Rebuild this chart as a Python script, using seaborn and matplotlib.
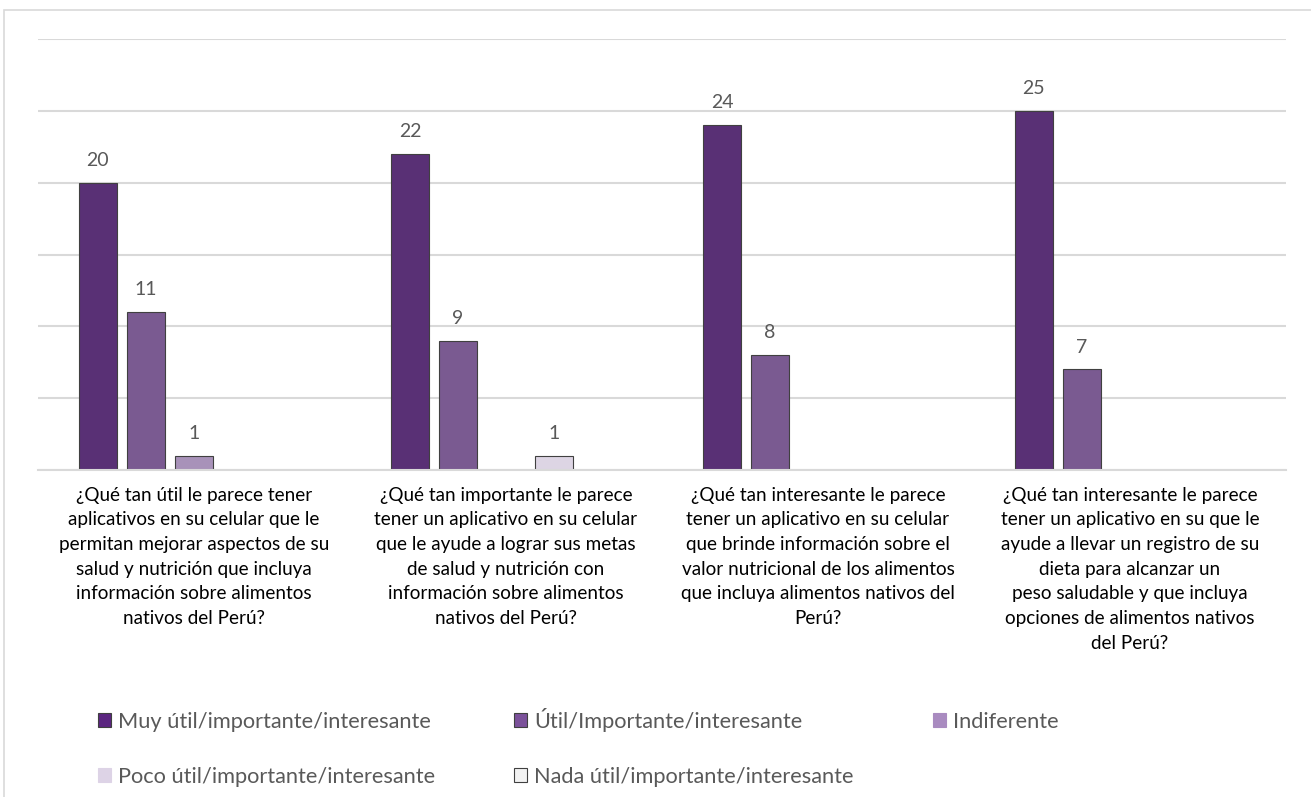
import matplotlib.pyplot as plt
import matplotlib.patches as mpatches
import matplotlib.ticker as mticker
import seaborn as sns
import pandas as pd

# ── Data ──────────────────────────────────────────────────────────────────────

preguntas = [
    "¿Qué tan útil le parece tener\naplicativos en su celular que le\npermitan mejorar aspectos de su\n"
    "salud y nutrición que incluya\ninformación sobre alimentos\nnativos del Perú?",
    "¿Qué tan importante le parece\ntener un aplicativo en su celular\nque le ayude a lograr sus metas\n"
    "de salud y nutrición con\ninformación sobre alimentos\nnativos del Perú?",
    "¿Qué tan interesante le parece\ntener un aplicativo en su celular\nque brinde información sobre el\n"
    "valor nutricional de los alimentos\nque incluya alimentos nativos del\nPerú?",
    "¿Qué tan interesante le parece\ntener un aplicativo en su que le\nayude a llevar un registro de su\n"
    "dieta para alcanzar un\npeso saludable y que incluya\nopciones de alimentos nativos\ndel Perú?",
]
respuestas = [
    "Muy útil/importante/interesante",
    "Útil/Importante/interesante",
    "Indiferente",
    "Poco útil/importante/interesante",
    "Nada útil/importante/interesante",
]
muy = [20, 22, 24, 25]
util = [11, 9, 8, 7]
indiferente = [1, 0, 0, 0]
poco = [0, 1, 0, 0]
nada = [0, 0, 0, 0]

colores = ["#5B2580", "#7B519A", "#A98BC0", "#DDD3E6", "#F2F2F2"]

rows = []
for serie, vals in zip(respuestas, [muy, util, indiferente, poco, nada]):
    for q, v in zip(preguntas, vals):
        rows.append({"pregunta": q, "respuesta": serie, "n": v})
df = pd.DataFrame(rows)

# ── Style ─────────────────────────────────────────────────────────────────────

sns.set_theme(style="white")
plt.rcParams["font.family"] = ["Lato", "DejaVu Sans"]
GRID = "#D9D9D9"

fig = plt.figure(figsize=(13.11, 7.97), dpi=100)
ax = fig.add_axes([38 / 1311, 1 - 470 / 797, (1286 - 38) / 1311, (470 - 39) / 797])

# outer chart frame
fig.patches.append(
    mpatches.Rectangle((4 / 1311, -0.05), 1.1, 1 - 10 / 797 + 0.05,
                       transform=fig.transFigure, fill=False,
                       edgecolor=GRID, linewidth=1.2)
)

sns.barplot(
    data=df, x="pregunta", y="n", hue="respuesta",
    order=preguntas, hue_order=respuestas, palette=colores,
    width=0.77, gap=0.21, edgecolor="#404040", linewidth=0.8,
    legend=False, ax=ax,
)

# hide zero-height bars, label the rest
for cont in ax.containers:
    labels = []
    for bar in cont:
        h = bar.get_height()
        if h == 0:
            bar.set_visible(False)
            labels.append("")
        else:
            labels.append(f"{int(h)}")
    ax.bar_label(cont, labels=labels, padding=10, fontsize=14, color="#595959")

ax.set_ylim(0, 30)
ax.set_xlim(-0.5, 3.5)
ax.yaxis.set_major_locator(mticker.MultipleLocator(5))
ax.grid(axis="y", color=GRID, linewidth=1.5)
ax.set_axisbelow(True)
ax.set_yticklabels([])
ax.tick_params(axis="y", length=0)
for s in ["top", "right", "left"]:
    ax.spines[s].set_visible(False)
ax.spines["bottom"].set_color(GRID)
ax.spines["bottom"].set_linewidth(1.5)

ax.set_xticks([-0.5, 0.5, 1.5, 2.5, 3.5], minor=True)
ax.tick_params(axis="x", which="minor", length=9, width=1.5, color=GRID, direction="out")
ax.tick_params(axis="x", which="major", length=0, pad=12)
ax.set_xticks(range(4))
ax.set_xticklabels(preguntas, fontsize=13.6, color="#000000", linespacing=1.55)
ax.set_xlabel("")
ax.set_ylabel("")

# legend (row-major order as in the original)
handles = [mpatches.Patch(facecolor=c, edgecolor="#404040" if i in (0, 1, 4) else c,
                          linewidth=0.8, label=r)
           for i, (c, r) in enumerate(zip(colores, respuestas))]
order = [0, 3, 1, 4, 2]
leg = fig.legend(
    [handles[i] for i in order], [respuestas[i] for i in order],
    ncol=3, loc="upper left", bbox_to_anchor=(98 / 1311, 1 - 708 / 797),
    frameon=False, fontsize=15.7, handlelength=0.6, handleheight=0.6,
    handletextpad=0.3, columnspacing=3.65, labelspacing=1.6, borderpad=0,
    borderaxespad=0,
)
for t in leg.get_texts():
    t.set_color("#595959")

fig.savefig("out.png", dpi=100)
